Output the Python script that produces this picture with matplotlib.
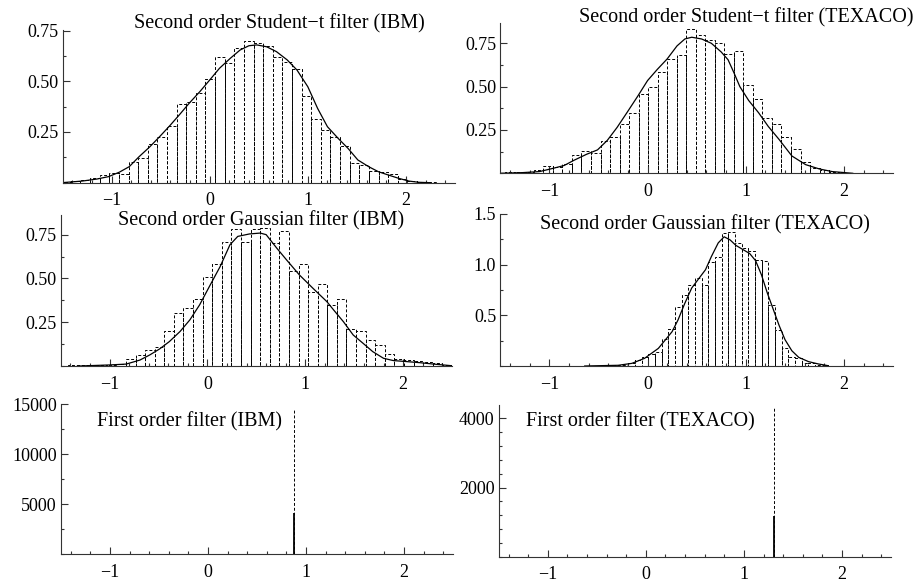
import numpy as np
import matplotlib
matplotlib.use("Agg")
import matplotlib.pyplot as plt
from matplotlib.ticker import FixedLocator, MultipleLocator, FuncFormatter

plt.rcParams['font.family'] = ['Liberation Serif', 'DejaVu Serif']
plt.rcParams['axes.unicode_minus'] = True

W, H = 918, 583

# ---------------- data ----------------
# Second order Student-t filter (IBM)
ibm_t_start = -1.513
ibm_t_width = 0.098
ibm_t_heights = [0.004, 0.008, 0.014, 0.025, 0.040, 0.049, 0.041, 0.100, 0.120, 0.190,
                 0.225, 0.280, 0.390, 0.400, 0.440, 0.510, 0.620, 0.590, 0.665, 0.700,
                 0.687, 0.674, 0.620, 0.596, 0.560, 0.427, 0.314, 0.260, 0.227, 0.180,
                 0.097, 0.088, 0.060, 0.052, 0.042, 0.020, 0.008, 0.003, 0.001]
ibm_t_curve_x = [-1.51, -1.3, -1.15, -1.03, -0.92, -0.82, -0.72, -0.61, -0.51, -0.41, -0.31,
                 -0.21, -0.10, 0.0, 0.10, 0.21, 0.31, 0.40, 0.48, 0.58, 0.68, 0.79, 0.89,
                 1.0, 1.10, 1.20, 1.31, 1.41, 1.51, 1.62, 1.72, 1.82, 1.93, 2.03, 2.13, 2.25]
ibm_t_curve_y = [0.0, 0.008, 0.018, 0.030, 0.052, 0.079, 0.128, 0.177, 0.227, 0.279, 0.334,
                 0.391, 0.449, 0.506, 0.564, 0.613, 0.654, 0.675, 0.679, 0.670, 0.646, 0.605,
                 0.555, 0.473, 0.366, 0.276, 0.218, 0.169, 0.112, 0.079, 0.054, 0.038, 0.021,
                 0.008, 0.002, 0.0]

# Second order Student-t filter (TEXACO)
tex_t_start = -1.546
tex_t_width = 0.097
tex_t_heights = [0.003, 0.005, 0.008, 0.010, 0.018,
                 0.042, 0.038, 0.052, 0.106, 0.130, 0.115, 0.187, 0.208, 0.285, 0.350,
                 0.460, 0.500, 0.586, 0.658, 0.683, 0.830, 0.800, 0.770, 0.754, 0.690,
                 0.706, 0.510, 0.427, 0.317, 0.285, 0.210, 0.138, 0.067, 0.029, 0.019,
                 0.008, 0.004, 0.002]
tex_t_curve_x = [-1.51, -1.27, -1.10, -0.96, -0.85, -0.75, -0.62, -0.51, -0.41, -0.31, -0.21,
                 -0.10, 0.0, 0.10, 0.20, 0.30, 0.38, 0.45, 0.55, 0.65, 0.75, 0.82, 0.88,
                 0.94, 1.03, 1.13, 1.23, 1.34, 1.47, 1.61, 1.75, 1.88, 2.09]
tex_t_curve_y = [0.0, 0.004, 0.010, 0.029, 0.045, 0.075, 0.110, 0.135, 0.190, 0.265, 0.350,
                 0.445, 0.535, 0.600, 0.660, 0.735, 0.775, 0.785, 0.775, 0.750, 0.700, 0.655,
                 0.580, 0.500, 0.420, 0.350, 0.270, 0.195, 0.100, 0.050, 0.025, 0.010, 0.0]

# Second order Gaussian filter (IBM)
ibm_g_start = -1.519
ibm_g_width = 0.098
ibm_g_heights = [0.002, 0.003, 0.004, 0.005, 0.005, 0.006, 0.010, 0.040, 0.060, 0.090,
                 0.110, 0.200, 0.300, 0.330, 0.380, 0.510, 0.580, 0.710, 0.780, 0.710,
                 0.780, 0.790, 0.700, 0.770, 0.540, 0.580, 0.420, 0.470, 0.350, 0.380,
                 0.210, 0.200, 0.150, 0.120, 0.070, 0.040, 0.035, 0.030, 0.020, 0.015, 0.006]
ibm_g_curve_x = [-1.31, -1.0, -0.83, -0.69, -0.59, -0.49, -0.39, -0.28, -0.18, -0.08, 0.02,
                 0.13, 0.23, 0.31, 0.43, 0.54, 0.60, 0.71, 0.81, 0.94, 1.08, 1.22, 1.29,
                 1.39, 1.49, 1.59, 1.69, 1.80, 1.90, 2.04, 2.17, 2.31, 2.49]
ibm_g_curve_y = [0.0, 0.006, 0.011, 0.034, 0.063, 0.097, 0.139, 0.197, 0.263, 0.349, 0.454,
                 0.568, 0.692, 0.740, 0.754, 0.759, 0.750, 0.672, 0.605, 0.520, 0.443, 0.368,
                 0.320, 0.253, 0.177, 0.130, 0.082, 0.044, 0.031, 0.025, 0.019, 0.011, 0.002]

# Second order Gaussian filter (TEXACO)
tex_g_start = -0.605
tex_g_width = 0.068
tex_g_heights = [0.002, 0.003, 0.004, 0.005, 0.007,
                 0.010, 0.026, 0.060, 0.085, 0.115, 0.140, 0.270, 0.370, 0.580, 0.700,
                 0.800, 0.870, 0.800, 1.030, 1.080, 1.310, 1.320, 1.210, 1.160, 1.130,
                 1.045, 1.040, 0.600, 0.355, 0.175, 0.090, 0.075, 0.030, 0.026, 0.010,
                 0.005, 0.003]
tex_g_curve_x = [-0.64, -0.30, -0.16, -0.03, 0.11, 0.25, 0.31, 0.38, 0.45, 0.52, 0.59, 0.65,
                 0.72, 0.78, 0.84, 0.90, 0.97, 1.04, 1.10, 1.16, 1.22, 1.28, 1.34, 1.40,
                 1.47, 1.54, 1.64, 1.74, 1.84]
tex_g_curve_y = [0.0, 0.007, 0.026, 0.076, 0.174, 0.339, 0.454, 0.620, 0.770, 0.860, 0.950,
                 1.080, 1.215, 1.275, 1.245, 1.190, 1.150, 1.110, 1.040, 0.900, 0.720, 0.560,
                 0.400, 0.260, 0.150, 0.085, 0.043, 0.020, 0.003]

# First order filters: a single spike
ibm_first_x = 0.881
ibm_first_hist = 14430
ibm_first_density = 4100
tex_first_x = 1.308
tex_first_hist = 4290
tex_first_density = 1176

titles = ["Second order Student\u2212t filter (IBM)",
          "Second order Student\u2212t filter (TEXACO)",
          "Second order Gaussian filter (IBM)",
          "Second order Gaussian filter (TEXACO)",
          "First order filter (IBM)",
          "First order filter (TEXACO)"]

# ---------------- figure ----------------
fig = plt.figure(figsize=(W / 100, H / 100), dpi=100)

AXC = '#333333'
DASH = (0, (3.0, 2.0))


def make_ax(l, r, t, b):
    return fig.add_axes([l / W, 1 - b / H, (r - l) / W, (b - t) / H])


def style(ax, ylim, ymajor, yminor, fmt):
    ax.set_xlim(-1.5, 2.5)
    ax.set_ylim(*ylim)
    for s in ('top', 'right'):
        ax.spines[s].set_visible(False)
    for s in ('left', 'bottom'):
        ax.spines[s].set_linewidth(0.8)
        ax.spines[s].set_color(AXC)
    ax.xaxis.set_major_locator(FixedLocator([-1, 0, 1, 2]))
    ax.xaxis.set_minor_locator(MultipleLocator(0.2))
    ax.yaxis.set_major_locator(FixedLocator(ymajor))
    ax.yaxis.set_minor_locator(MultipleLocator(yminor))
    ax.yaxis.set_major_formatter(FuncFormatter(fmt))
    ax.xaxis.set_major_formatter(FuncFormatter(lambda v, p: f"{int(round(v))}".replace('-', '\u2212')))
    ax.tick_params(which='both', direction='in', color=AXC, width=0.8, labelsize=13)
    ax.tick_params(which='major', length=5)
    ax.tick_params(which='minor', length=2.5)
    ax.tick_params(axis='x', pad=7)
    ax.tick_params(axis='y', pad=3)


def hist_panel(ax, start, width, heights, cx, cy):
    lefts = start + width * np.arange(len(heights))
    ax.bar(lefts, heights, width=width, align='edge', fill=False,
           edgecolor='black', linewidth=0.7, linestyle=DASH)
    ax.plot(cx, cy, color='black', lw=0.9)


def spike_panel(ax, x, hh, dd):
    ax.vlines([x], 0, hh, color='black', lw=0.7, linestyle=DASH)
    ax.vlines([x], 0, dd, color='black', lw=1.3)


f2 = lambda v, p: f"{v:.2f}"
f1 = lambda v, p: f"{v:.1f}"
f0 = lambda v, p: f"{int(round(v))}"

ax1 = make_ax(62.5, 455, 29.5, 182.7)
hist_panel(ax1, ibm_t_start, ibm_t_width, ibm_t_heights, ibm_t_curve_x, ibm_t_curve_y)
style(ax1, (0, 0.755), [0.25, 0.5, 0.75], 0.125, f2)

ax2 = make_ax(500.3, 893, 22.5, 173.3)
hist_panel(ax2, tex_t_start, tex_t_width, tex_t_heights, tex_t_curve_x, tex_t_curve_y)
style(ax2, (0, 0.87), [0.25, 0.5, 0.75], 0.125, f2)

ax3 = make_ax(60.7, 452, 214.5, 366)
hist_panel(ax3, ibm_g_start, ibm_g_width, ibm_g_heights, ibm_g_curve_x, ibm_g_curve_y)
style(ax3, (0, 0.865), [0.25, 0.5, 0.75], 0.125, f2)

ax4 = make_ax(500.3, 893, 214, 366)
hist_panel(ax4, tex_g_start, tex_g_width, tex_g_heights, tex_g_curve_x, tex_g_curve_y)
style(ax4, (0, 1.5), [0.5, 1.0, 1.5], 0.25, f1)

ax5 = make_ax(61, 453, 404.3, 554.3)
spike_panel(ax5, ibm_first_x, ibm_first_hist, ibm_first_density)
style(ax5, (0, 15000), [5000, 10000, 15000], 2500, f0)

ax6 = make_ax(498.7, 891, 405, 556.7)
spike_panel(ax6, tex_first_x, tex_first_hist, tex_first_density)
style(ax6, (0, 4385), [2000, 4000], 400, f0)

title_pos = [(279, 24), (746.5, 17.5), (261.5, 220.5), (705, 225), (189.5, 421.5), (640.5, 421.5)]
for (tx, ty), t in zip(title_pos, titles):
    fig.text(tx / W, 1 - ty / H, t, ha='center', va='center', fontsize=14.5)

fig.savefig('out.png', dpi=100)
